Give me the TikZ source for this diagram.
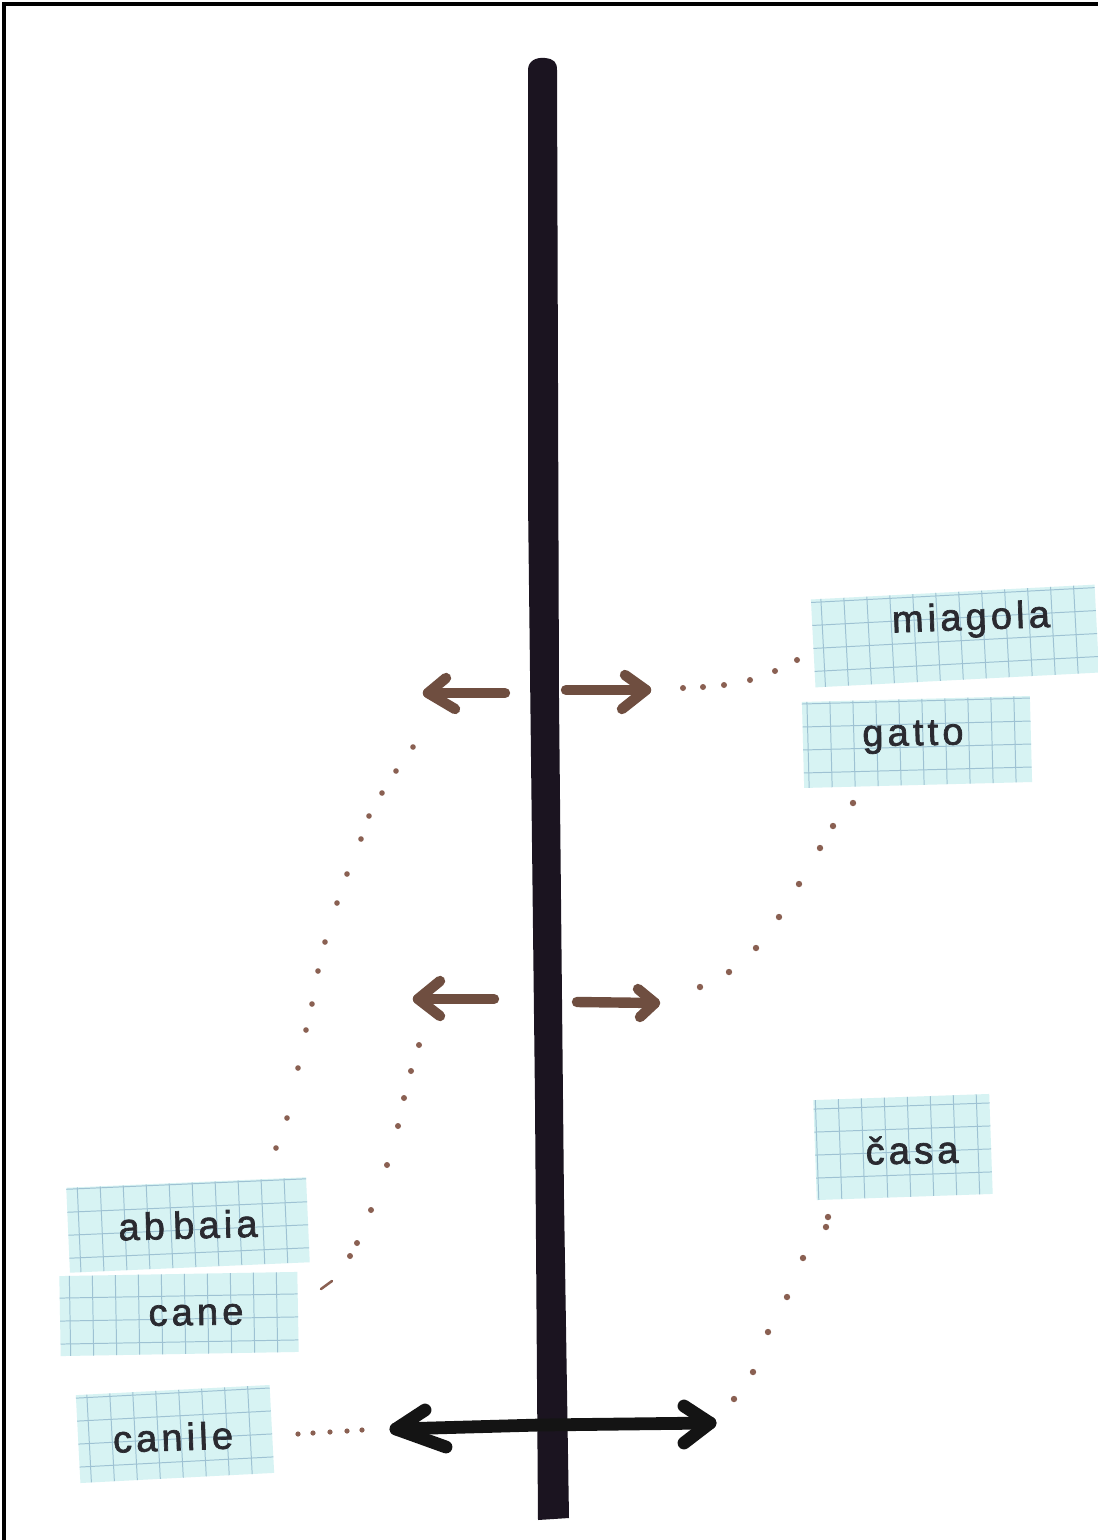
\documentclass[tikz,border=0pt]{standalone}
\usepackage{fontspec}
\newfontfamily\cardfont[LetterSpace=11,FakeBold=1.8]{Liberation Sans}
\definecolor{cardcyan}{HTML}{D7F3F3}
\definecolor{gridblue}{HTML}{9EC2D3}
\definecolor{inkgray}{HTML}{2A2A30}
\definecolor{arrowbrown}{HTML}{6F4E40}
\definecolor{dotbrown}{HTML}{8A6052}
\definecolor{barink}{HTML}{1B1420}

% a sheet of squared paper: centre, width, height, tilt
\newcommand\gridcard[5]{%
  \begin{scope}[shift={(#1,#2)}, rotate=#5]
    \fill[cardfill] (-#3/2,-#4/2) rectangle (#3/2,#4/2);
    \begin{scope}
      \clip (-#3/2,-#4/2) rectangle (#3/2,#4/2);
      \foreach \k in {-8,...,8} \draw[cardgrid] (\k*23+6,-70) -- (\k*23+6,70);
      \foreach \k in {-3,...,3} \draw[cardgrid] (-200,\k*23+5) -- (200,\k*23+5);
    \end{scope}
  \end{scope}}

\begin{document}
\begin{tikzpicture}[x=0.025cm, y=-0.025cm,
  cardfill/.style={fill=cardcyan},
  cardgrid/.style={draw=gridblue, line width=0.7pt},
  word/.style={font=\cardfont\fontsize{27}{30}\selectfont, text=inkgray, inner sep=0pt, anchor=center},
  brownarrow/.style={draw=arrowbrown, line width=0.26cm, line cap=round, line join=round},
  blackarrow/.style={draw=black!92, line width=0.32cm, line cap=round, line join=round},
  dotmark/.style={fill=dotbrown, draw=none}]

\useasboundingbox (0,0) rectangle (1098,1540);
\fill[white] (0,0) rectangle (1098,1540);

% frame along the top and left edges
\draw[line width=0.1cm] (4,1540) -- (4,4) -- (1098,4);

% the central post
\fill[barink] (528,70) .. controls (528,61) and (536,57) .. (545,58)
  .. controls (554,59) and (557,62) .. (557,70)
  -- (559,700) -- (564,1200) -- (569,1518) -- (538,1520)
  -- (535,1100) -- (528,500) -- cycle;

% word cards
\gridcard{955}{636}{284}{88}{3}
\gridcard{917}{742}{228}{86}{1.5}
\gridcard{903}{1147}{176}{100}{2}
\gridcard{188}{1225}{240}{85}{2.5}
\gridcard{179}{1314}{238}{80}{1}
\gridcard{175}{1434}{194}{88}{3}

\node[word, rotate=2]   (miagola) at (971,620)  {miagola};
\node[word, rotate=1]   (gatto)   at (913,737)  {gatto};
\node[word, rotate=1]   (casa)    at (912,1150) {časa};
\node[word, rotate=1.5] (abbaia)  at (188,1225) {ab\hspace{0.22em}baia};
\node[word, rotate=1]   (cane)    at (196,1315) {cane};
\node[word, rotate=2]   (canile)  at (173,1437) {canile};

% brown arrows
\coordinate (ul) at (428,693);
\coordinate (ur) at (646,690);
\coordinate (ll) at (418,999);
\coordinate (lr) at (655,1003);
\draw[brownarrow] (505,693) -- (ul);
\draw[brownarrow] (446,678) -- (ul) -- (455,709);
\draw[brownarrow] (566,690) -- (ur);
\draw[brownarrow] (625,675) -- (ur) -- (622,709);
\draw[brownarrow] (494,999) -- (ll);
\draw[brownarrow] (440,981) -- (ll) -- (440,1016);
\draw[brownarrow] (577,1002) -- (lr);
\draw[brownarrow] (638,989) -- (lr) -- (640,1017);

% black double arrow
\coordinate (bl) at (396,1429);
\coordinate (br) at (710,1423);
\draw[blackarrow] (bl) -- (540,1425) -- (br);
\draw[blackarrow] (425,1410) -- (bl) -- (446,1447);
\draw[blackarrow] (684,1406) -- (br) -- (684,1443);

% dotted trails
\foreach \p in {(683,688),(703,687),(724,685),(750,680),(775,671),(797,660)}
  \fill[dotmark] \p circle (3);
\foreach \p in {(853,803),(833,826),(820,848),(799,884),(779,917),(756,948),(729,972),(700,987)}
  \fill[dotmark] \p circle (3.2);
\foreach \p in {(413,747),(396,771),(382,793),(369,816),(361,839),(347,874),(337,903),
                (325,942),(318,971),(312,1004),(306,1030),(298,1068),(287,1118),(276,1148)}
  \fill[dotmark] \p circle (2.8);
\foreach \p in {(419,1045),(411,1071),(404,1098),(398,1126),(387,1165),(371,1210),(357,1243),(350,1256)}
  \fill[dotmark] \p circle (3);
\draw[dotbrown, line width=1.8pt, line cap=round] (321,1289) -- (332,1281);
\foreach \p in {(828,1217),(826,1227),(803,1258),(787,1297),(768,1332),(753,1372),(734,1399)}
  \fill[dotmark] \p circle (3.2);
\foreach \p in {(298,1434),(313,1433),(330,1432),(347,1431),(362,1430)}
  \fill[dotmark] \p circle (2.6);
\end{tikzpicture}
\end{document}
